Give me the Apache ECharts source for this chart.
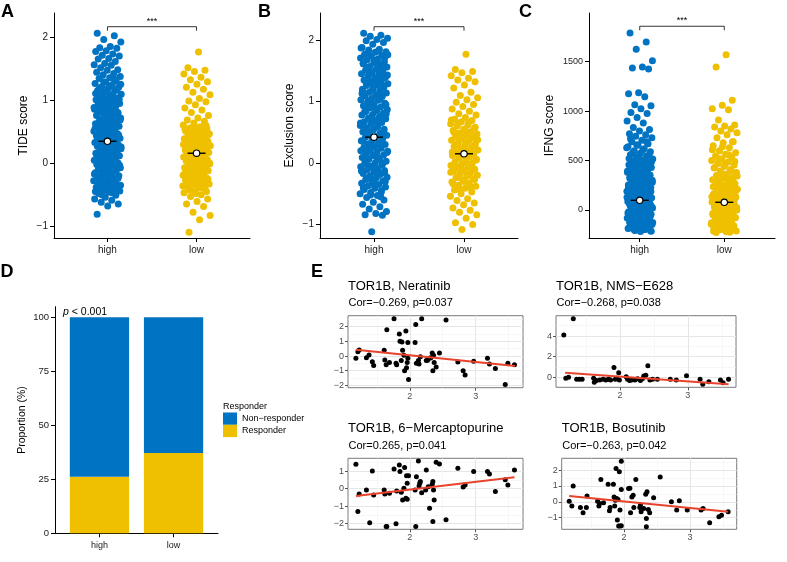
<!DOCTYPE html>
<html>
<head>
<meta charset="utf-8">
<script src="https://cdn.jsdelivr.net/npm/echarts@6.0.0/dist/echarts.min.js"></script>
</head>
<body style="margin:0;background:#fff">
<div id="main" style="width:787px;height:562px"></div>
<script>
// ---------------- data ----------------
var groups = ['high', 'low'];

// A: TIDE score, visible outline of each strip + the solid core
var tideHigh = [2.07, 2.03, 1.97, 1.93, 1.86, 1.84, 1.83, 1.79, 1.78, 1.74, 1.72, 1.71, 1.67, 1.66, 1.62, 1.59, 1.57, 1.56, 1.52, 1.49,
  1.48, 1.45, 1.43, 1.41, 1.38, 1.36, 1.35, 1.31, 1.29, 1.27, 1.25, 1.22, 1.21, 1.19, 1.16, 1.15, 1.13, 1.10, 1.09, 1.07,
  1.04, 1.03, 1.01, 0.98, 0.97, 0.95, 0.93, 0.91, 0.90, 0.87, 0.86, 0.84, 0.82, 0.80, 0.79, 0.77, 0.75, 0.73, 0.72, 0.70,
  0.68, 0.67, 0.65, 0.63, 0.62, 0.60, 0.59, 0.57, 0.56, 0.54, 0.53, 0.51, 0.50, 0.48, 0.47, 0.46, 0.44, 0.43, 0.41, 0.40,
  0.39, 0.37, 0.36, 0.35, 0.33, 0.32, 0.31, 0.29, 0.28, 0.27, 0.25, 0.24, 0.23, 0.21, 0.20, 0.19, 0.17, 0.16, 0.15, 0.13,
  0.12, 0.11, 0.09, 0.08, 0.06, 0.05, 0.04, 0.02, 0.01, -0.01, -0.02, -0.04, -0.05, -0.07, -0.08, -0.10, -0.11, -0.13, -0.15, -0.16,
  -0.18, -0.20, -0.21, -0.23, -0.25, -0.27, -0.28, -0.30, -0.32, -0.34, -0.36, -0.38, -0.40, -0.42, -0.44, -0.46, -0.48, -0.51, -0.54, -0.57,
  -0.59, -0.62, -0.65, -0.68, -0.81];
var tideHighCore = [1.34, 1.30, 1.26, 1.23, 1.20, 1.17, 1.14, 1.11, 1.08, 1.05, 1.02, 0.99, 0.96, 0.94, 0.92, 0.89, 0.85, 0.83, 0.81, 0.78,
  0.76, 0.74, 0.71, 0.69, 0.66, 0.64, 0.61, 0.58, 0.55, 0.52, 0.49, 0.45, 0.42, 0.38, 0.34, 0.30, 0.26, 0.22, 0.18, 0.14,
  0.10, 0.07, 0.03, 0.00, -0.03, -0.06, -0.09, -0.12, -0.14, -0.17, -0.19, -0.22, -0.24, -0.26, -0.29, -0.31, -0.33, -0.35, -0.37, -0.39,
  -0.41, -0.43, -0.45, -0.47, -0.50];
var tideLow = [1.77, 1.52, 1.48, 1.46, 1.42, 1.37, 1.33, 1.30, 1.26, 1.21, 1.18, 1.13, 1.09, 1.03, 0.99, 0.98, 0.93, 0.88, 0.85, 0.81,
  0.76, 0.72, 0.69, 0.67, 0.64, 0.61, 0.58, 0.56, 0.55, 0.53, 0.51, 0.50, 0.48, 0.47, 0.45, 0.44, 0.42, 0.41, 0.39, 0.38,
  0.36, 0.35, 0.33, 0.32, 0.31, 0.29, 0.28, 0.26, 0.25, 0.24, 0.22, 0.21, 0.20, 0.18, 0.17, 0.16, 0.14, 0.13, 0.12, 0.10,
  0.09, 0.08, 0.06, 0.05, 0.04, 0.02, 0.01, 0.00, -0.02, -0.03, -0.05, -0.06, -0.07, -0.09, -0.10, -0.12, -0.13, -0.15, -0.16, -0.18,
  -0.19, -0.21, -0.22, -0.24, -0.26, -0.27, -0.29, -0.31, -0.33, -0.35, -0.38, -0.41, -0.44, -0.47, -0.50, -0.53, -0.57, -0.61, -0.65, -0.69,
  -0.78, -0.83, -0.90, -1.10];
var tideLowCore = [0.60, 0.57, 0.54, 0.52, 0.49, 0.46, 0.43, 0.40, 0.37, 0.34, 0.30, 0.27, 0.23, 0.19, 0.15, 0.11, 0.07, 0.03, -0.01, -0.04,
  -0.08, -0.11, -0.14, -0.17, -0.20, -0.23, -0.25, -0.28, -0.30, -0.32, -0.34, -0.36, -0.39, -0.42, -0.45, -0.48];
var tideMean = [0.35, 0.16];

// B: Exclusion score
var exclHigh = [2.11, 2.08, 2.06, 2.03, 2.01, 1.99, 1.96, 1.93, 1.88, 1.85, 1.84, 1.81, 1.80, 1.77, 1.75, 1.74, 1.71, 1.69, 1.68, 1.65,
  1.63, 1.62, 1.59, 1.57, 1.56, 1.53, 1.51, 1.50, 1.47, 1.45, 1.44, 1.41, 1.39, 1.38, 1.35, 1.33, 1.32, 1.29, 1.27, 1.26,
  1.23, 1.21, 1.20, 1.17, 1.15, 1.14, 1.11, 1.09, 1.08, 1.05, 1.03, 1.02, 0.99, 0.97, 0.96, 0.93, 0.91, 0.90, 0.87, 0.85,
  0.84, 0.81, 0.79, 0.78, 0.75, 0.73, 0.72, 0.69, 0.67, 0.66, 0.63, 0.61, 0.60, 0.57, 0.55, 0.54, 0.51, 0.49, 0.48, 0.45,
  0.43, 0.42, 0.39, 0.37, 0.36, 0.33, 0.31, 0.30, 0.27, 0.25, 0.24, 0.21, 0.19, 0.18, 0.15, 0.13, 0.12, 0.09, 0.07, 0.06,
  0.03, 0.01, 0.00, -0.03, -0.05, -0.06, -0.09, -0.11, -0.12, -0.15, -0.17, -0.18, -0.21, -0.23, -0.24, -0.27, -0.29, -0.31, -0.33, -0.35,
  -0.37, -0.39, -0.41, -0.43, -0.45, -0.48, -0.50, -0.53, -0.56, -0.60, -0.64, -0.67, -0.71, -0.75, -0.79, -0.82, -0.84, -0.85, -1.12];
var exclHighCore = [1.87, 1.82, 1.79, 1.72, 1.67, 1.61, 1.55, 1.49, 1.43, 1.37, 1.31, 1.25, 1.19, 1.13, 1.07, 1.01, 0.95, 0.89, 0.83, 0.77,
  0.71, 0.65, 0.59, 0.53, 0.47, 0.41, 0.35, 0.29, 0.23, 0.17, 0.11, 0.05, -0.01, -0.07, -0.13, -0.19, -0.25, -0.30, -0.36, -0.42,
  -0.47, -0.52, 1.76, 1.64, 1.52, 1.40, 1.28, 1.16, 1.04, 0.92, 0.80, 0.68, 0.56, 0.44, 0.32, 0.20, 0.08, -0.04, -0.16, -0.28,
  -0.40, -0.55];
var exclLow = [1.77, 1.52, 1.49, 1.47, 1.42, 1.38, 1.35, 1.32, 1.27, 1.22, 1.15, 1.10, 1.06, 1.03, 0.99, 0.95, 0.92, 0.88, 0.84, 0.80,
  0.78, 0.74, 0.71, 0.69, 0.67, 0.64, 0.62, 0.60, 0.57, 0.55, 0.53, 0.51, 0.49, 0.47, 0.45, 0.43, 0.41, 0.39, 0.37, 0.35,
  0.33, 0.31, 0.29, 0.27, 0.25, 0.23, 0.21, 0.19, 0.17, 0.15, 0.13, 0.12, 0.10, 0.08, 0.06, 0.04, 0.02, 0.00, -0.02, -0.04,
  -0.06, -0.08, -0.10, -0.12, -0.14, -0.16, -0.18, -0.20, -0.22, -0.24, -0.26, -0.28, -0.31, -0.33, -0.36, -0.38, -0.41, -0.44, -0.47, -0.50,
  -0.54, -0.58, -0.61, -0.65, -0.68, -0.73, -0.77, -0.80, -0.84, -0.90, -0.97, -1.00, -1.08];
var exclLowCore = [0.70, 0.66, 0.63, 0.58, 0.54, 0.50, 0.46, 0.42, 0.38, 0.34, 0.30, 0.26, 0.22, 0.18, 0.14, 0.09, 0.05, 0.01, -0.03, -0.07,
  -0.11, -0.15, -0.19, -0.23, -0.27, -0.30, -0.34, -0.39, -0.43];
var exclMean = [0.42, 0.15];

// C: IFNG score
var ifngHigh = [1790, 1700, 1625, 1510, 1445, 1435, 1425, 1185, 1175, 1145, 1065, 1055, 1025, 985, 975, 935, 900, 880, 835, 815,
  800, 770, 760, 745, 730, 705, 690, 670, 655, 640, 620, 600, 590, 575, 560, 545, 530, 515, 500, 490,
  478, 470, 458, 450, 441, 430, 421, 410, 402, 390, 381, 372, 360, 352, 341, 332, 322, 313, 301, 292,
  283, 271, 264, 253, 246, 237, 229, 221, 213, 204, 198, 189, 181, 173, 165, 158, 149, 141, 134, 125,
  117, 110, 101, 94, 85, 78, 69, 62, 53, 46, 37, 30, 21, 14, 5, -2, -11, -18, -27, -34,
  -43, -50, -59, -66, -75, -82, -91, -98, -107, -114, -123, -130, -139, -146, -155, -162, -171, -178, -187, -194,
  -203, -210, -218];
var ifngHighCore = [720, 690, 660, 630, 610, 585, 555, 540, 520, 505, 495, 485, 462, 445, 425, 415, 395, 385, 365, 355,
  335, 318, 306, 295, 280, 268, 256, 243, 233, 225, 210, 201, 186, 177, 162, 153, 138, 129, 114, 106,
  90, 82, 66, 57, 42, 34, 18, 9, -6, -14, -30, -38, -54, -62, -78, -87, -102, -110, -126, -134,
  -150, -158, -174, -182, -198, -206, -215];
var ifngLow = [1570, 1445, 1110, 1060, 1025, 1015, 910, 860, 850, 840, 820, 800, 780, 760, 730, 690, 680, 650, 630, 600,
  580, 565, 545, 530, 515, 500, 485, 470, 455, 440, 425, 410, 395, 380, 365, 350, 335, 320, 305, 290,
  278, 266, 254, 242, 230, 221, 209, 200, 191, 179, 170, 161, 149, 140, 131, 119, 110, 101, 89, 80,
  71, 59, 50, 41, 29, 20, 11, -1, -10, -19, -31, -40, -49, -61, -70, -79, -91, -100, -109, -121,
  -130, -139, -151, -160, -169, -181, -190, -199, -211, -220, -228];
var ifngLowCore = [690, 640, 610, 560, 520, 490, 460, 430, 400, 375, 345, 315, 300, 285,
  250, 236, 224, 212, 196, 185, 174, 158, 146, 134, 122, 106, 95, 84, 66, 55, 44, 25, 15, 5,
  -15, -25, -35, -55, -66, -75, -95, -104, -115, -135, -145, -155, -175, -185, -195, -215, -225];
var ifngMean = [98, 78];

// D: response proportions (%)
var respLabels = ['Non\u2212responder', 'Responder'];
var propResponder = [26.2, 37.2];
var propNonResponder = [73.8, 62.8];

// E: TOR1B expression vs drug sensitivity
var ptsNeratinib = [[1.18,-0.16],[1.21,0.30],[1.23,0.41],[1.34,-0.11],[1.38,0.07],[1.43,-0.39],[1.45,-0.64],[1.61,0.40],[1.62,-0.27],[1.64,-0.60],
  [1.65,1.80],[1.69,-0.45],[1.76,2.55],[1.79,-0.50],[1.80,-0.60],[1.84,1.50],[1.85,1.00],[1.88,0.95],[1.87,-0.30],[1.89,0.40],
  [1.91,0.05],[1.92,-1.00],[1.95,-0.80],[1.94,1.70],[1.96,-0.45],[1.97,-0.15],[1.97,0.93],[1.98,-1.60],[2.08,0.93],[2.09,2.15],
  [2.10,-0.50],[2.13,-0.30],[2.14,-0.55],[2.16,-0.05],[2.18,2.55],[2.25,-0.30],[2.27,-0.28],[2.30,-0.15],[2.32,-0.12],[2.34,0.20],
  [2.36,0.05],[2.35,-1.00],[2.37,-0.45],[2.40,-0.75],[2.45,0.20],[2.55,2.45],[2.73,-0.40],[2.81,-1.00],[2.84,-1.30],[2.97,-0.35],
  [3.18,-0.15],[3.21,-0.55],[3.30,-0.85],[3.45,-1.95],[3.49,-0.50],[3.59,-0.60]];
var fitNeratinib = [[1.18,0.42],[3.60,-0.68]];

var ptsNMS = [[1.17,4.10],[1.31,5.68],[1.20,-0.10],[1.24,0.00],[1.36,-0.19],[1.40,-0.19],[1.44,-0.19],[1.61,-0.10],[1.62,-0.48],[1.65,-0.32],
  [1.70,-0.26],[1.75,-0.19],[1.79,-0.26],[1.83,-0.19],[1.86,-0.26],[1.91,0.94],[1.93,-0.19],[1.95,-0.10],[1.98,0.45],[1.99,-0.26],
  [2.09,0.06],[2.11,-0.19],[2.14,-0.32],[2.17,-0.26],[2.22,-0.26],[2.26,-0.13],[2.30,-0.32],[2.33,-0.13],[2.35,0.13],[2.38,0.19],
  [2.41,1.13],[2.44,-0.26],[2.48,-0.19],[2.55,-0.19],[2.74,-0.19],[2.83,-0.26],[2.98,0.16],[3.18,-0.19],[3.22,-0.68],[3.31,-0.42],
  [3.48,-0.26],[3.52,-0.52],[3.60,-0.19]];
var fitNMS = [[1.19,0.45],[3.60,-0.68]];

var ptsMP = [[1.18,1.39],[1.21,-1.31],[1.23,-0.30],[1.34,-0.08],[1.39,-1.94],[1.43,1.00],[1.45,-0.36],[1.61,-0.08],[1.62,-0.30],[1.64,-2.16],
  [1.65,-2.16],[1.69,-0.27],[1.76,1.12],[1.79,-2.00],[1.80,-0.13],[1.84,1.35],[1.85,0.97],[1.87,-0.21],[1.89,-0.65],[1.91,0.02],
  [1.92,1.20],[1.94,-0.55],[1.96,-0.60],[1.95,0.74],[1.96,0.30],[1.98,0.74],[2.08,-0.08],[2.09,-2.16],[2.10,0.68],[2.13,1.57],
  [2.14,0.15],[2.15,0.30],[2.16,0.40],[2.18,-0.23],[2.25,1.06],[2.24,-0.08],[2.28,0.11],[2.30,-1.12],[2.34,0.25],[2.35,0.40],
  [2.35,-1.88],[2.37,-0.65],[2.36,-0.08],[2.40,1.50],[2.45,1.40],[2.55,-1.78],[2.73,1.16],[2.81,0.10],[2.84,0.20],[2.97,0.97],
  [3.18,0.97],[3.21,0.84],[3.30,-0.17],[3.45,0.50],[3.49,0.20],[3.59,1.06]];
var fitMP = [[1.18,-0.42],[3.59,0.65]];

var ptsBosutinib = [[1.17,0.04],[1.21,-0.27],[1.23,1.00],[1.34,-0.36],[1.38,-0.69],[1.43,-0.36],[1.44,0.36],[1.60,0.04],[1.62,-0.27],[1.63,-0.10],
  [1.65,1.40],[1.69,-0.06],[1.76,1.11],[1.78,-0.57],[1.79,-0.36],[1.84,1.11],[1.85,0.31],[1.86,-0.27],[1.87,0.10],[1.88,2.10],
  [1.89,0.21],[1.90,-1.15],[1.91,0.15],[1.92,-1.53],[1.94,-1.53],[1.93,1.89],[1.94,-0.52],[1.96,2.56],[1.96,0.78],[1.96,-1.50],
  [2.07,0.84],[2.09,0.86],[2.10,-0.69],[2.12,0.31],[2.14,0.42],[2.15,-0.36],[2.18,1.40],[2.24,-0.36],[2.25,-0.21],[2.26,-0.63],
  [2.30,-0.42],[2.33,0.48],[2.35,0.63],[2.34,-1.05],[2.34,-1.57],[2.37,-0.48],[2.39,-0.69],[2.45,0.25],[2.55,1.57],[2.72,0.00],
  [2.80,-0.52],[2.84,0.06],[2.96,-0.52],[3.17,-0.52],[3.20,-0.42],[3.30,-1.32],[3.44,-0.94],[3.48,-0.84],[3.58,-0.63]];
var fitBosutinib = [[1.17,0.36],[3.58,-0.63]];

// ---------------- layout / style ----------------
var FONT = '"Liberation Sans", Arial, Helvetica, sans-serif';
var BLUE = '#0073C2', YELLOW = '#EFC000', RED = '#E8432D';
var minus = function (v) { return String(v).replace('-', '\u2212'); };

var chart = echarts.init(document.getElementById('main'), null, { renderer: 'canvas' });

var grids = [], xAxes = [], yAxes = [], series = [], graphics = [];

function jitter(vals, cat, seed) {
  // spread the strip sideways (deterministic, like geom_jitter width)
  return vals.map(function (v, i) {
    var f = (i * 0.6180339887 + seed) % 1;
    return [cat + (f - 0.5) * 0.31, v];
  });
}

function text(x, y, str, font, extra) {
  var s = { text: str, font: font, fill: '#000', textAlign: 'left', textVerticalAlign: 'middle' };
  for (var k in extra) s[k] = extra[k];
  graphics.push({ type: 'text', x: x, y: y, style: s, z: 100 });
}

// ---- panels A, B, C: strip charts ----
var strips = [
  { pos: [54, 13, 196, 225], min: -1.19, max: 2.393, ticks: [-1, 0, 1, 2], name: 'TIDE score', gap: 24, lab: 10,
    hi: tideHigh.concat(tideHighCore), lo: tideLow.concat(tideLowCore), mean: tideMean, sig: 2.175 },
  { pos: [320, 13, 198, 225], min: -1.22, max: 2.44, ticks: [-1, 0, 1, 2], name: 'Exclusion score', gap: 24, lab: 10,
    hi: exclHigh.concat(exclHighCore), lo: exclLow.concat(exclLowCore), mean: exclMean, sig: 2.217 },
  { pos: [589, 13, 186, 225], min: -283, max: 1992, ticks: [0, 500, 1000, 1500], name: 'IFNG score', gap: 33, lab: 9,
    hi: ifngHigh.concat(ifngHighCore), lo: ifngLow.concat(ifngLowCore), mean: ifngMean, sig: 1858 }
];

strips.forEach(function (p, i) {
  grids.push({ left: p.pos[0], top: p.pos[1], width: p.pos[2], height: p.pos[3] });
  xAxes.push({
    gridIndex: i, type: 'value', min: 0.4, max: 2.6, position: 'bottom',
    axisLine: { show: true, onZero: false, lineStyle: { color: '#000', width: 1 } },
    axisTick: { show: true, customValues: [1, 2], length: 4, lineStyle: { color: '#000' } },
    axisLabel: { customValues: [1, 2], formatter: function (v) { return groups[Math.round(v) - 1]; },
      color: '#1a1a1a', fontSize: 10, fontFamily: FONT, margin: 7 },
    splitLine: { show: false }
  });
  yAxes.push({
    gridIndex: i, type: 'value', min: p.min, max: p.max,
    axisLine: { show: true, onZero: false, lineStyle: { color: '#000', width: 1 } },
    axisTick: { show: true, customValues: p.ticks, length: 4, lineStyle: { color: '#000' } },
    axisLabel: { customValues: p.ticks, formatter: minus, color: '#1a1a1a', fontSize: p.lab, fontFamily: FONT, margin: 6 },
    splitLine: { show: false },
    name: p.name, nameLocation: 'middle', nameGap: p.gap,
    nameTextStyle: { fontSize: 12, fontFamily: FONT, color: '#000' }
  });
  series.push({ type: 'scatter', xAxisIndex: i, yAxisIndex: i, data: jitter(p.hi, 1, 0.13),
    symbolSize: 7, itemStyle: { color: BLUE, opacity: 1 }, silent: true, z: 2 });
  series.push({ type: 'scatter', xAxisIndex: i, yAxisIndex: i, data: jitter(p.lo, 2, 0.57),
    symbolSize: 7, itemStyle: { color: YELLOW, opacity: 1 }, silent: true, z: 2 });
  // mean marker
  series.push({
    type: 'custom', xAxisIndex: i, yAxisIndex: i, silent: true, z: 5,
    data: [[1, p.mean[0]], [2, p.mean[1]]],
    renderItem: function (params, api) {
      var c = api.coord([api.value(0), api.value(1)]);
      return { type: 'group', children: [
        { type: 'line', shape: { x1: c[0] - 9, y1: c[1], x2: c[0] + 9, y2: c[1] }, style: { stroke: '#000', lineWidth: 1.4 } },
        { type: 'circle', shape: { cx: c[0], cy: c[1], r: 3.2 }, style: { fill: '#fff', stroke: '#000', lineWidth: 1.2 } }
      ] };
    }
  });
  // significance bracket
  series.push({
    type: 'custom', xAxisIndex: i, yAxisIndex: i, silent: true, z: 5,
    data: [[1, 2, p.sig]],
    renderItem: function (params, api) {
      var a = api.coord([api.value(0), api.value(2)]);
      var b = api.coord([api.value(1), api.value(2)]);
      return { type: 'group', children: [
        { type: 'polyline', shape: { points: [[a[0], a[1] + 4], a, b, [b[0], b[1] + 4]] },
          style: { stroke: '#000', lineWidth: 0.8, fill: null } },
        { type: 'text', x: (a[0] + b[0]) / 2, y: a[1] - 1,
          style: { text: '***', font: '9px ' + FONT, fill: '#000', textAlign: 'center', textVerticalAlign: 'bottom' } }
      ] };
    }
  });
});

// ---- panel D: stacked proportion bars ----
grids.push({ left: 55, top: 306.7, width: 163, height: 226.6 });
xAxes.push({
  gridIndex: 3, type: 'value', min: 0.4, max: 2.6, position: 'bottom',
  axisLine: { show: true, onZero: false, lineStyle: { color: '#000', width: 1 } },
  axisTick: { show: true, customValues: [1, 2], length: 4, lineStyle: { color: '#000' } },
  axisLabel: { customValues: [1, 2], formatter: function (v) { return groups[Math.round(v) - 1]; },
    color: '#1a1a1a', fontSize: 9, fontFamily: FONT, margin: 8 },
  splitLine: { show: false }
});
yAxes.push({
  gridIndex: 3, type: 'value', min: 0, max: 104.9,
  axisLine: { show: true, onZero: false, lineStyle: { color: '#000', width: 1 } },
  axisTick: { show: true, customValues: [0, 25, 50, 75, 100], length: 4, lineStyle: { color: '#000' } },
  axisLabel: { customValues: [0, 25, 50, 75, 100], color: '#1a1a1a', fontSize: 9.5, fontFamily: FONT, margin: 6 },
  splitLine: { show: false },
  name: 'Proportion (%)', nameLocation: 'middle', nameGap: 27,
  nameTextStyle: { fontSize: 10.5, fontFamily: FONT, color: '#000' }
});

function stackBar(params, api) {
  var lo = api.coord([api.value(0), api.value(1)]);
  var hi = api.coord([api.value(0), api.value(2)]);
  var w = api.size([0.8, 0])[0];
  return { type: 'rect', shape: { x: lo[0] - w / 2, y: hi[1], width: w, height: lo[1] - hi[1] },
    style: { fill: api.visual('color') } };
}
var respRows = groups.map(function (g, i) { return [i + 1, 0, propResponder[i]]; });
var nonRows = groups.map(function (g, i) { return [i + 1, propResponder[i], propResponder[i] + propNonResponder[i]]; });
series.push({ type: 'custom', name: respLabels[1], xAxisIndex: 3, yAxisIndex: 3, data: respRows,
  encode: { x: 0, y: [1, 2] }, renderItem: stackBar, itemStyle: { color: YELLOW }, silent: true });
series.push({ type: 'custom', name: respLabels[0], xAxisIndex: 3, yAxisIndex: 3, data: nonRows,
  encode: { x: 0, y: [1, 2] }, renderItem: stackBar, itemStyle: { color: BLUE }, silent: true });

// ---- panel E: four correlation scatter plots ----
var corr = [
  { pos: [348, 315.7, 175, 72], x: [1.06, 3.72], y: [-2.16, 2.75], yt: [-2, -1, 0, 1, 2], ym: [-1.5, -0.5, 0.5, 1.5, 2.5],
    pts: ptsNeratinib, fit: fitNeratinib, title: 'TOR1B, Neratinib', sub: 'Cor=\u22120.269, p=0.037' },
  { pos: [556, 315.7, 180, 71.6], x: [1.055, 3.71], y: [-0.97, 5.97], yt: [0, 2, 4], ym: [1, 3, 5],
    pts: ptsNMS, fit: fitNMS, title: 'TOR1B, NMS\u2212E628', sub: 'Cor=\u22120.268, p=0.038' },
  { pos: [348, 458.3, 175, 71], x: [1.06, 3.72], y: [-2.32, 1.73], yt: [-2, -1, 0, 1], ym: [-1.5, -0.5, 0.5, 1.5],
    pts: ptsMP, fit: fitMP, title: 'TOR1B, 6\u2212Mercaptopurine', sub: 'Cor=0.265, p=0.041' },
  { pos: [561.7, 458.3, 175, 71], x: [1.056, 3.71], y: [-1.73, 2.74], yt: [-1, 0, 1, 2], ym: [-1.5, -0.5, 0.5, 1.5, 2.5],
    pts: ptsBosutinib, fit: fitBosutinib, title: 'TOR1B, Bosutinib', sub: 'Cor=\u22120.263, p=0.042' }
];

corr.forEach(function (p, k) {
  var g = 4 + k;
  grids.push({ left: p.pos[0], top: p.pos[1], width: p.pos[2], height: p.pos[3],
    show: true, borderColor: '#7a7a7a', borderWidth: 1, backgroundColor: '#fff' });
  var xi = xAxes.length, yi = yAxes.length;
  // major
  xAxes.push({
    gridIndex: g, type: 'value', min: p.x[0], max: p.x[1], position: 'bottom',
    axisLine: { show: false, onZero: false },
    axisTick: { show: true, customValues: [2, 3], length: 3, lineStyle: { color: '#555' } },
    axisLabel: { customValues: [2, 3], color: '#4d4d4d', fontSize: 9, fontFamily: FONT, margin: 4 },
    splitLine: { show: true, lineStyle: { color: '#e6e6e6', width: 1 } }
  });
  yAxes.push({
    gridIndex: g, type: 'value', min: p.y[0], max: p.y[1],
    axisLine: { show: false, onZero: false },
    axisTick: { show: true, customValues: p.yt, length: 3, lineStyle: { color: '#555' } },
    axisLabel: { customValues: p.yt, formatter: minus, color: '#4d4d4d', fontSize: 9, fontFamily: FONT, margin: 4 },
    splitLine: { show: true, lineStyle: { color: '#e6e6e6', width: 1 } }
  });
  // minor grid lines
  xAxes.push({
    gridIndex: g, type: 'value', min: p.x[0], max: p.x[1], position: 'bottom',
    axisLine: { show: false, onZero: false }, axisTick: { show: false, customValues: [1.5, 2.5, 3.5] },
    axisLabel: { show: false, customValues: [1.5, 2.5, 3.5] },
    splitLine: { show: true, lineStyle: { color: '#f2f2f2', width: 0.6 } }
  });
  yAxes.push({
    gridIndex: g, type: 'value', min: p.y[0], max: p.y[1], position: 'left',
    axisLine: { show: false, onZero: false }, axisTick: { show: false, customValues: p.ym },
    axisLabel: { show: false, customValues: p.ym },
    splitLine: { show: true, lineStyle: { color: '#f2f2f2', width: 0.6 } }
  });
  series.push({ type: 'scatter', xAxisIndex: xi, yAxisIndex: yi, data: p.pts, symbolSize: 5,
    itemStyle: { color: '#000', opacity: 1 }, silent: true, z: 3 });
  series.push({ type: 'line', xAxisIndex: xi, yAxisIndex: yi, data: p.fit, showSymbol: false, symbol: 'none',
    lineStyle: { color: RED, width: 2 }, silent: true, z: 4 });
  text(p.pos[0], p.pos[1] - 29.5, p.title, '13px ' + FONT);
  text(p.pos[0] + 0.5, p.pos[1] - 12.3, p.sub, '11px ' + FONT);
});

// panel letters and free text
text(1, 12.5, 'A', 'bold 18px ' + FONT);
text(258, 12.5, 'B', 'bold 18px ' + FONT);
text(519, 12.5, 'C', 'bold 18px ' + FONT);
text(0.5, 272, 'D', 'bold 18px ' + FONT);
text(311, 272, 'E', 'bold 18px ' + FONT);
graphics.push({ type: 'text', x: 63, y: 312.5, z: 100,
  style: { text: '{i|p} < 0.001', font: '10.5px ' + FONT, fill: '#000', textVerticalAlign: 'middle',
    rich: { i: { fontStyle: 'italic', fontSize: 10.5, fontFamily: FONT } } } });
text(223, 406.5, 'Responder', '9px ' + FONT);

var option = {
  animation: false,
  backgroundColor: '#fff',
  textStyle: { fontFamily: FONT },
  grid: grids,
  xAxis: xAxes,
  yAxis: yAxes,
  legend: {
    data: respLabels, orient: 'vertical', left: 223, top: 412.5, padding: 0,
    itemWidth: 14, itemHeight: 12.3, itemGap: 0, icon: 'rect', selectedMode: false,
    textStyle: { fontSize: 9, fontFamily: FONT, color: '#000', lineHeight: 12.3 }
  },
  graphic: graphics,
  series: series
};

chart.setOption(option);
window.addEventListener('resize', chart.resize);
</script>
</body>
</html>
